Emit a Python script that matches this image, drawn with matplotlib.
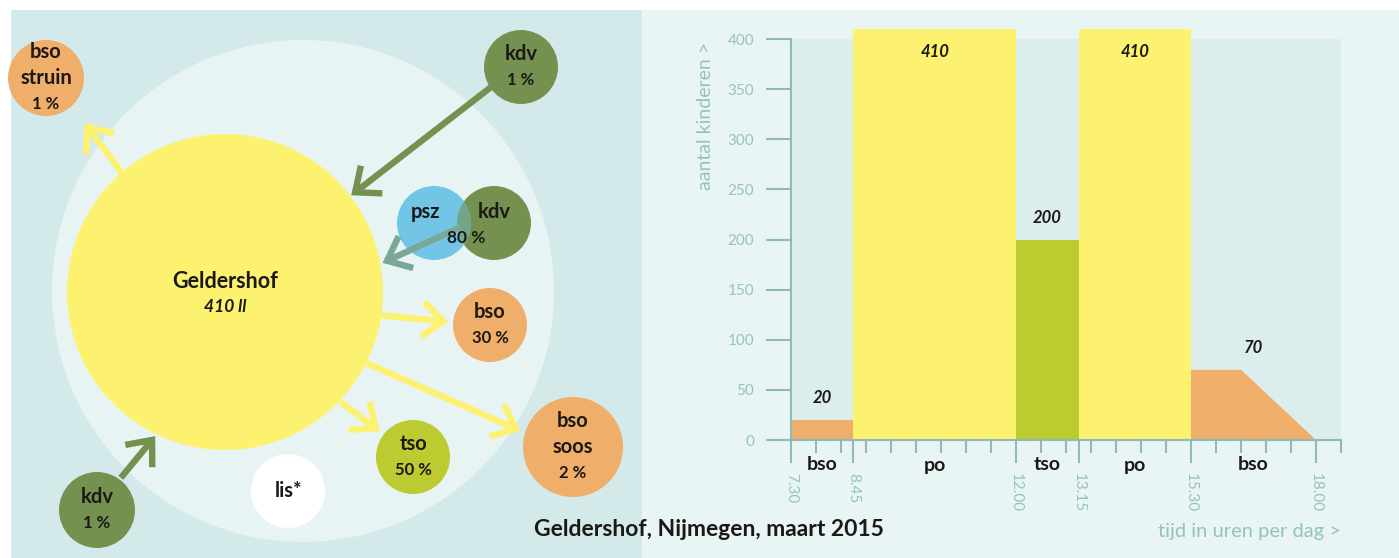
import matplotlib
matplotlib.use("Agg")
import matplotlib.pyplot as plt
import numpy as np
from matplotlib.patches import Circle, Rectangle, FancyArrowPatch

plt.rcParams['font.family'] = ['Lato', 'DejaVu Sans']

# palette
WHITE  = "#FFFFFF"
PANEL1 = "#D4EAEA"
PANEL2 = "#E9F5F5"
RING   = "#E8F4F4"
PLOTBG = "#DCEDED"
YELLOW = "#FDF26F"
ORANGE = "#EFAE69"
LIME   = "#BCCB30"
GREEN  = "#74914F"
BLUE   = "#72C5E4"
GREYGR = "#7AA898"
AXIS   = "#8FBABA"
SOFT   = "#97C1C1"
DARK   = "#1C1816"

# ── data: right chart ─────────────────────────────────────────
segments   = ["bso", "po", "tso", "po", "bso"]
seg_start  = [7.5, 8.75, 12.0, 13.25, 15.5]      # hours
seg_end    = [8.75, 12.0, 13.25, 15.5, 18.0]
seg_values = [20, 410, 200, 410, 70]
seg_colors = [ORANGE, YELLOW, LIME, YELLOW, ORANGE]
taper_from = 16.5          # evening bso stays at 70 until 16.30, then runs down to 0
time_labels = ["7.30", "8.45", "12.00", "13.15", "15.30", "18.00"]

# ── data: left diagram ────────────────────────────────────────
node_names = [["bso", "struin"], ["kdv"], ["bso"], ["tso"], ["bso", "soos"], ["lis*"], ["kdv"]]
node_pct   = ["1 %", "1 %", "30 %", "50 %", "2 %", "", "1 %"]
node_cols  = [ORANGE, GREEN, ORANGE, LIME, ORANGE, WHITE, GREEN]
centre_name, centre_count = "Geldershof", "410 ll"
shared_pct = "80 %"        # psz + kdv together

# layout (pixels)
node_xy = [(46, 78), (521, 67), (490, 325), (413, 457), (573, 447), (288, 491), (97, 510)]
node_r  = [38, 37, 37, 37, 50, 37, 38]

fig = plt.figure(figsize=(13.99, 5.58), dpi=100, facecolor=WHITE)
bg = fig.add_axes([0, 0, 1, 1])
bg.set_xlim(0, 1399)
bg.set_ylim(558, 0)
bg.axis('off')

bg.add_patch(Rectangle((11, 10), 631, 548, color=PANEL1, lw=0))
bg.add_patch(Rectangle((642, 10), 757, 548, color=PANEL2, lw=0))
bg.add_patch(Circle((303, 291), 251, color=RING, lw=0))
bg.add_patch(Circle((225, 292), 158, color=YELLOW, lw=0, zorder=3))

ARROW = '->,head_length=0.5,head_width=0.42'


def arrow(p1, p2, color, z=2):
    a = FancyArrowPatch(p1, p2, arrowstyle=ARROW, mutation_scale=30, lw=4.6,
                        color=color, capstyle='butt', joinstyle='miter', zorder=z)
    bg.add_patch(a)


arrow((125, 177), (83, 121), YELLOW)
arrow((495, 84), (349, 197), GREEN)
arrow((378, 315), (451, 322), YELLOW)
arrow((364, 362), (523, 432), YELLOW)
arrow((338, 400), (382, 433), YELLOW)
arrow((119, 480), (157, 434), GREEN)

for names, pct, col, (x, y), r in zip(node_names, node_pct, node_cols, node_xy, node_r):
    circ = Circle((x, y), r, color=col, lw=0, zorder=4)
    circ.set_clip_path(Rectangle((11, 10), 631, 548, transform=bg.transData))
    bg.add_patch(circ)
    lines = names + ([pct] if pct else [])
    y0 = y - (len(lines) - 1) * 13
    for i, t in enumerate(lines):
        fs = 12 if t == pct else 14.5
        bg.text(x, y0 + i * 26, t, ha='center', va='center', fontsize=fs,
                fontweight='bold', color=DARK, zorder=6)

# psz + kdv overlap pair
bg.add_patch(Circle((494, 223), 37, color=GREEN, lw=0, zorder=4))
bg.add_patch(Circle((434, 223), 37, color=BLUE, lw=0, zorder=4))
ov = Circle((494, 223), 37, color=GREEN, lw=0, alpha=0.6, zorder=4)
bg.add_patch(ov)
ov.set_clip_path(Circle((434, 223), 37, transform=bg.transData))
bg.text(425, 212, "psz", ha='center', va='center', fontsize=14.5, fontweight='bold', color=DARK, zorder=6)
bg.text(494, 212, "kdv", ha='center', va='center', fontsize=14.5, fontweight='bold', color=DARK, zorder=6)
bg.text(466, 238, shared_pct, ha='center', va='center', fontsize=12.5, fontweight='bold', color=DARK, zorder=6)
arrow((463, 226), (380, 264), GREYGR, z=5)

bg.text(225, 281, centre_name, ha='center', va='center', fontsize=15.5,
        fontweight='bold', color=DARK, zorder=6)
bg.text(225, 307, centre_count, ha='center', va='center', fontsize=12.5,
        style='italic', fontweight='bold', color=DARK, zorder=6)

# ── bar chart ─────────────────────────────────────────────────
ax = fig.add_axes([791 / 1399, 118 / 558, 550 / 1399, 411 / 558])
ax.set_facecolor('none')
ax.set_xlim(7.5, 18.5)
ax.set_ylim(0, 410)
ax.add_patch(Rectangle((7.5, 0), 11, 400, color=PLOTBG, lw=0, zorder=0))

widths = [e - s for s, e in zip(seg_start, seg_end)]
ax.bar(seg_start[:-1], seg_values[:-1], width=widths[:-1], align='edge',
       color=seg_colors[:-1], lw=0, zorder=2, clip_on=False)
ax.fill([seg_start[-1], seg_start[-1], taper_from, seg_end[-1]],
        [0, seg_values[-1], seg_values[-1], 0], color=seg_colors[-1], lw=0, zorder=2)

for s, e, v, name in zip(seg_start, seg_end, seg_values, segments):
    xc = (s + e) / 2
    off = -23 if v > 400 else 22
    ax.annotate(str(v), (xc, v), xytext=(0, off * 0.72), textcoords='offset points',
                ha='center', va='center', fontsize=12, style='italic',
                fontweight='bold', color=DARK)
    ax.annotate(name, (xc, 0), xytext=(0, -25 * 0.72), textcoords='offset points',
                ha='center', va='center', fontsize=14, fontweight='bold', color=DARK,
                annotation_clip=False)

for side in ['top', 'right']:
    ax.spines[side].set_visible(False)
ax.spines['left'].set_bounds(0, 400)
for side in ['left', 'bottom']:
    ax.spines[side].set_color(AXIS)
    ax.spines[side].set_linewidth(1.5)
    ax.spines[side].set_zorder(3)

ax.set_yticks(np.arange(0, 401, 50))
ax.tick_params(axis='y', length=18, width=1.5, color=AXIS, labelcolor=SOFT,
               labelsize=11, pad=8.5)

major = sorted(set(seg_start + seg_end))
minor = [t for t in np.arange(7.5, 18.51, 0.5) if t not in major]
ax.set_xticks(major)
ax.set_xticklabels(time_labels, rotation=-90, ha='center', va='top')
ax.set_xticks(minor, minor=True)
ax.tick_params(axis='x', which='major', length=16.5, width=1.5, color=AXIS,
               labelcolor=SOFT, labelsize=11, pad=7)
ax.tick_params(axis='x', which='minor', length=9, width=1.5, color=AXIS)

fig.text(706 / 1399, 1 - 116 / 558, "aantal kinderen >", rotation=90,
         ha='center', va='center', fontsize=14, color=SOFT)
fig.text(1341 / 1399, 1 - 532 / 558, "tijd in uren per dag >", ha='right',
         va='center', fontsize=14.5, color=SOFT)
fig.text(709 / 1399, 1 - 530 / 558, "Geldershof, Nijmegen, maart 2015",
         ha='center', va='center', fontsize=16.5, fontweight='bold', color=DARK)

fig.savefig("out.png", dpi=100, facecolor=WHITE)
